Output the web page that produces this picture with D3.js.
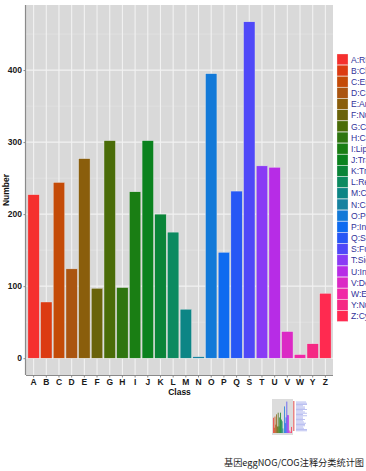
<!DOCTYPE html>
<html>
<head>
<meta charset="utf-8">
<script src="https://cdn.jsdelivr.net/npm/d3@7"></script>
<style>
  body { margin: 0; background: #fff; }
  svg { display: block; font-family: "Liberation Sans", Arial, sans-serif; }
</style>
</head>
<body>
<svg id="chart" width="366" height="471"></svg>
<script>
var classes = ["A","B","C","D","E","F","G","H","I","J","K","L","M","N","O","P","Q","S","T","U","V","W","Y","Z"];
var counts = [227, 78, 244, 124, 277, 97, 302, 98, 231, 302, 200, 175, 68, 2, 395, 147, 232, 467, 267, 265, 37, 5, 20, 90];
var colors = ["#f5302e","#dc3b12","#c44b08","#aa5511","#8a5e0c","#6a630a","#4a6c08","#2f7510","#1a7e14","#0b821e",
              "#0a8438","#0c8a60","#0c8585","#1682a0","#1279d8","#0e6bf0","#2757f5","#4f48f8","#8a3af5","#b72ce6",
              "#db29c5","#f028a6","#f52884","#ff2a50"];
var legendLabels = ["A:RNA processing and modification","B:Chromatin structure and dynamics","C:Energy production and conversion",
  "D:Cell cycle control, cell division","E:Amino acid transport and metabolism","F:Nucleotide transport and metabolism",
  "G:Carbohydrate transport and metabolism","H:Coenzyme transport and metabolism","I:Lipid transport and metabolism",
  "J:Translation, ribosomal structure","K:Transcription","L:Replication, recombination and repair",
  "M:Cell wall/membrane/envelope biogenesis","N:Cell motility","O:Posttranslational modification",
  "P:Inorganic ion transport and metabolism","Q:Secondary metabolites biosynthesis","S:Function unknown",
  "T:Signal transduction mechanisms","U:Intracellular trafficking","V:Defense mechanisms",
  "W:Extracellular structures","Y:Nuclear structure","Z:Cytoskeleton"];
var yTicks = [0, 100, 200, 300, 400];
var yMinor = [50, 150, 250, 350, 450];
var caption = "基因eggNOG/COG注释分类统计图";

var svg = d3.select("#chart");
var panel = {left: 26, right: 333, top: 5, bottom: 375};

var maxV = d3.max(counts);
var y = d3.scaleLinear().domain([-0.05 * maxV, maxV * 1.05]).range([panel.bottom, panel.top]);
var x = d3.scaleBand().domain(classes).range([panel.left, panel.right]).paddingInner(0.1).paddingOuter(0.15);
var colorOf = d3.scaleOrdinal().domain(classes).range(colors);

// panel background
svg.append("rect")
  .attr("x", panel.left).attr("y", panel.top)
  .attr("width", panel.right - panel.left).attr("height", panel.bottom - panel.top)
  .attr("fill", "#d9d9d9");

var grid = svg.append("g");
grid.selectAll("line.minor").data(yMinor).enter().append("line")
  .attr("x1", panel.left).attr("x2", panel.right)
  .attr("y1", function(d){ return y(d); }).attr("y2", function(d){ return y(d); })
  .attr("stroke", "#e6e6e6").attr("stroke-width", 0.6);
grid.selectAll("line.major").data(yTicks).enter().append("line")
  .attr("x1", panel.left).attr("x2", panel.right)
  .attr("y1", function(d){ return y(d); }).attr("y2", function(d){ return y(d); })
  .attr("stroke", "#f2f2f2").attr("stroke-width", 1.1);
grid.selectAll("line.vx").data(classes).enter().append("line")
  .attr("y1", panel.top).attr("y2", panel.bottom)
  .attr("x1", function(d){ return x(d) + x.bandwidth() / 2; })
  .attr("x2", function(d){ return x(d) + x.bandwidth() / 2; })
  .attr("stroke", "#f2f2f2").attr("stroke-width", 1.1);

// bars
svg.append("g").selectAll("rect").data(classes).enter().append("rect")
  .attr("x", function(d){ return x(d); })
  .attr("width", x.bandwidth())
  .attr("y", function(d, i){ return y(counts[i]); })
  .attr("height", function(d, i){ return y(0) - y(counts[i]); })
  .attr("fill", function(d){ return colorOf(d); })
  .attr("stroke", "#e8e8e8").attr("stroke-width", 0.4);

// axes
var yAxis = svg.append("g")
  .attr("transform", "translate(" + panel.left + ",0)")
  .call(d3.axisLeft(y).tickValues(yTicks).tickSize(2.5).tickPadding(1.5));
var xAxis = svg.append("g")
  .attr("transform", "translate(0," + panel.bottom + ")")
  .call(d3.axisBottom(x).tickSize(2.5).tickPadding(1.5));
[xAxis, yAxis].forEach(function(a){
  a.select(".domain").attr("stroke", "#8a8a8a").attr("stroke-width", 1.2);
  a.selectAll(".tick line").attr("stroke", "#8a8a8a");
  a.selectAll("text").attr("fill", "#1a1a1a").attr("font-size", 8.5).attr("font-weight", "bold");
});
xAxis.select(".domain").attr("d", "M" + panel.left + ",0.5H" + panel.right);
yAxis.select(".domain").attr("d", "M-0.5," + panel.top + "V" + panel.bottom);

svg.append("text")
  .attr("x", (panel.left + panel.right) / 2).attr("y", 395)
  .attr("text-anchor", "middle").attr("font-size", 8.5).attr("font-weight", "bold")
  .attr("fill", "#111").text("Class");
svg.append("text")
  .attr("transform", "translate(9," + ((panel.top + panel.bottom) / 2) + ") rotate(-90)")
  .attr("text-anchor", "middle").attr("font-size", 8.5).attr("font-weight", "bold")
  .attr("fill", "#111").text("Number");

// legend (text runs past the right edge as in the original)
var legend = svg.append("g").attr("transform", "translate(337,54)");
var keyH = 11.16;
var rows = legend.selectAll("g").data(classes).enter().append("g")
  .attr("transform", function(d, i){ return "translate(0," + (i * keyH) + ")"; });
rows.append("rect")
  .attr("width", 11).attr("height", keyH - 0.4)
  .attr("fill", function(d){ return colorOf(d); })
  .attr("stroke", "#f0f0f0").attr("stroke-width", 0.3);
rows.append("text")
  .attr("x", 14).attr("y", keyH / 2 + 3)
  .attr("font-size", 8.6).attr("fill", "#33339a")
  .text(function(d, i){ return legendLabels[i]; });

// small thumbnail of the chart
var thumb = svg.append("g").attr("transform", "translate(272,399)");
var ty = d3.scaleLinear().domain([0, maxV * 1.05]).range([34, 1]);
var tx = d3.scaleBand().domain(classes).range([1, 20]).padding(0.05);
thumb.append("rect").attr("width", 21).attr("height", 36).attr("fill", "#dcdcdc");
thumb.selectAll("rect.b").data(classes).enter().append("rect")
  .attr("x", function(d){ return tx(d); }).attr("width", tx.bandwidth())
  .attr("y", function(d, i){ return ty(counts[i]); })
  .attr("height", function(d, i){ return 34 - ty(counts[i]); })
  .attr("fill", function(d){ return colorOf(d); });
thumb.append("rect").attr("x", 21).attr("y", 2).attr("width", 1.5).attr("height", 30)
  .attr("fill", "#e05050").attr("opacity", 0.7);
thumb.selectAll("line.l").data(classes).enter().append("line")
  .attr("x1", 24).attr("x2", function(d, i){ return 31 + (legendLabels[i].length % 5); })
  .attr("y1", function(d, i){ return 3 + i * 1.25; }).attr("y2", function(d, i){ return 3 + i * 1.25; })
  .attr("stroke", "#aab0ee").attr("stroke-width", 0.8);

svg.append("text")
  .attr("x", 294).attr("y", 466)
  .attr("text-anchor", "middle").attr("font-size", 9.2)
  .attr("font-family", "'Noto Sans CJK SC', sans-serif")
  .attr("fill", "#222").text(caption);
</script>
</body>
</html>
